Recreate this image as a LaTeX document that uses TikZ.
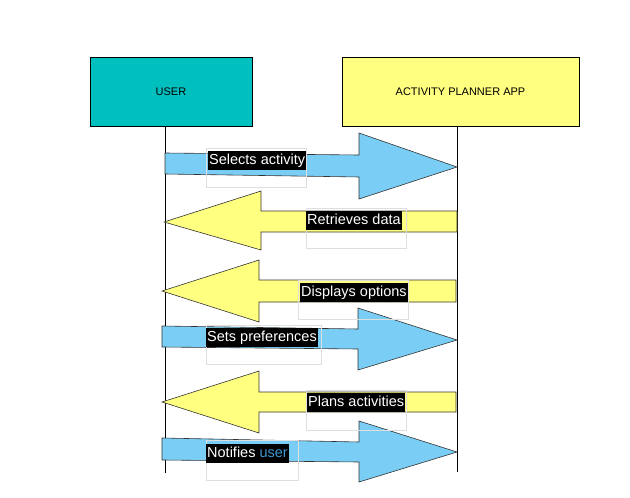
\documentclass[tikz,border=0pt]{standalone}
\usepackage{fontspec}
\setmainfont{Liberation Sans}
\usepackage{xcolor}
\usetikzlibrary{positioning,calc}
\definecolor{usercol}{RGB}{0,191,191}
\definecolor{appcol}{RGB}{255,255,128}
\definecolor{msgblue}{RGB}{122,206,245}
\definecolor{msgyellow}{RGB}{255,255,128}
\definecolor{wordblue}{RGB}{60,150,210}
\tikzset{
  actor/.style={draw=black,line width=0.6pt,minimum height=69pt,font=\fontsize{11}{13}\selectfont},
  lifeline/.style={draw=black,line width=0.8pt},
  callarrow/.style={draw=black!80,line width=0.6pt,fill=msgblue},
  backarrow/.style={draw=black!80,line width=0.6pt,fill=msgyellow},
  frame/.style={draw=black!13,line width=0.6pt},
  msg/.style={fill=black,text=white,inner xsep=1pt,inner ysep=2.5pt,text height=10.5pt,text depth=3pt,font=\fontsize{14.5}{16}\selectfont,anchor=north west}
}
\begin{document}
\begin{tikzpicture}[x=1pt,y=-1pt]
    \useasboundingbox (0,0) rectangle (630,498);
    % actors
    \node[actor,fill=usercol,minimum width=162pt] (user) at (171,91.5) {USER};
    \node[actor,fill=appcol,minimum width=237pt] (app) at (460.5,91.5) {ACTIVITY PLANNER APP};
    % lifelines
    \coordinate (userend) at (165,473);
    \coordinate (append) at (457,472);
    \draw[lifeline] (user.south -| userend) -- (userend);
    \draw[lifeline] (app.south -| append) -- (append);
    % messages
    \draw[callarrow] (165,153) -- (359,155) -- (359,133) -- (457,167) -- (359,199) -- (359,177) -- (165,174) -- cycle;
    \draw[backarrow] (457,211) -- (261,211) -- (261,191) -- (164,222) -- (261,250) -- (261,232) -- (457,232) -- cycle;
    \draw[backarrow] (456,280) -- (259,280) -- (259,260) -- (162,291) -- (259,322) -- (259,302) -- (456,302) -- cycle;
    \draw[callarrow] (162,326) -- (358,329) -- (358,308) -- (457,340) -- (358,370) -- (358,349) -- (162,347) -- cycle;
    \draw[backarrow] (456,392) -- (259,392) -- (259,371) -- (162,402) -- (259,433) -- (259,412) -- (456,412) -- cycle;
    \draw[callarrow] (162,438) -- (359,442) -- (359,421) -- (457,452) -- (359,482) -- (359,462) -- (162,460) -- cycle;
    % label frames
    \draw[frame] (206,148) rectangle (306,187);
    \draw[frame] (306,208) rectangle (406,248);
    \draw[frame] (298,280) rectangle (408,319);
    \draw[frame] (206,325) rectangle (321,364);
    \draw[frame] (306,390) rectangle (406,430);
    \draw[frame] (206,440) rectangle (298,480);
    % labels
    \node[msg] (m1) at (208,151) {Selects activity};
    \node[msg] (m2) at (306,211) {Retrieves data};
    \node[msg] (m3) at (300,283) {Displays options};
    \node[msg] (m4) at (206,328) {Sets preferences};
    \node[msg] (m5) at (307,393) {Plans activities};
    \node[msg] (m6) at (206,444) {Notifies \textcolor{wordblue}{user}};
  \end{tikzpicture}
\end{document}
